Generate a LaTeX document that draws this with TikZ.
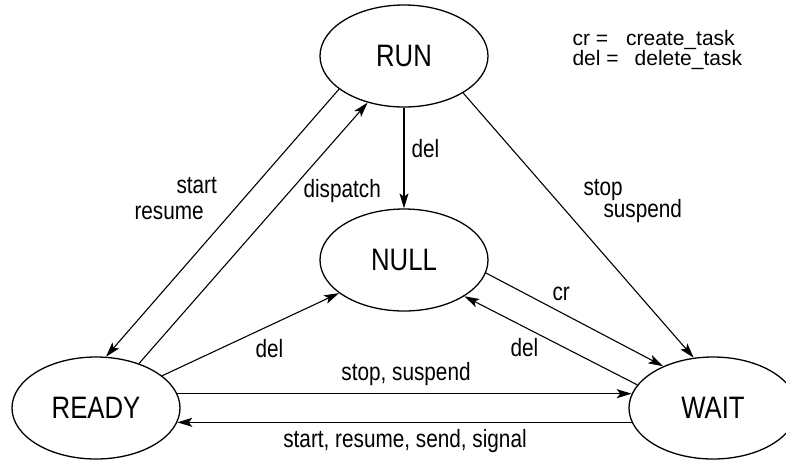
\documentclass[tikz,border=0pt]{standalone}
\usepackage{fontspec}
\setmainfont{Liberation Sans}
\newfontfamily\narrowsf[FakeStretch=0.83]{Liberation Sans}
\usepackage{tikz}
\usetikzlibrary{arrows.meta,shapes,positioning}

\begin{document}
\begin{tikzpicture}[x=1pt,y=-1pt,line width=1.1pt,
>={Stealth[length=15pt,width=9pt,inset=3.5pt]},
taskstate/.style={ellipse, draw, minimum width=168pt, minimum height=102pt,
    inner sep=0pt, line width=1.3pt, font=\narrowsf\fontsize{31}{36}\selectfont},
lbl/.style={inner sep=0pt, anchor=base west, font=\narrowsf\fontsize{25}{30}\selectfont},
legend/.style={inner sep=0pt, anchor=base west, font=\fontsize{21}{25}\selectfont}]
\useasboundingbox (0,0) rectangle (786,459);
% states
\node[taskstate] (run) at (404,56) {RUN};
\node[taskstate] (null) at (404,260) {NULL};
\node[taskstate] (ready) at (96,408) {READY};
\node[taskstate] (wait) at (713,408) {WAIT};
% transitions
\draw[->] (run.207) -- (ready.79);
\draw[->] (ready.46) -- (run.232);
\draw[->] (run.south) -- (null.north);
\draw[->] (run.328) -- (wait.111);
\draw[->] (null.351) -- (wait.140);
\draw[->] (wait.163) -- (null.329);
\draw[->] (ready.26) -- (null.207);
\draw[->] (ready.10) -- (wait.170);
\draw[->] (wait.190) -- (ready.350);
% labels
\node[lbl] (lstart) at (176,193) {start};
\node[lbl] (lresume) at (134,219) {resume};
\node[lbl] (ldispatch) at (303,197) {dispatch};
\node[lbl] (ldelrun) at (411,157) {del};
\node[lbl] (lstop) at (583,195) {stop};
\node[lbl] (lsuspend) at (603,217) {suspend};
\node[lbl] (lcr) at (552,300) {cr};
\node[lbl] (ldelwait) at (510,356) {del};
\node[lbl] (ldelready) at (255,357) {del};
\node[lbl, anchor=base] (lstopsus) at (406,380) {stop, suspend};
\node[lbl, anchor=base] (lsignal) at (405,447) {start, resume, send, signal};
% legend
\node[legend] (lgcr) at (572,45) {cr =\hspace{18pt}create\_task};
\node[legend] (lgdel) at (572,65) {del =\hspace{16pt}delete\_task};
\end{tikzpicture}
\end{document}
